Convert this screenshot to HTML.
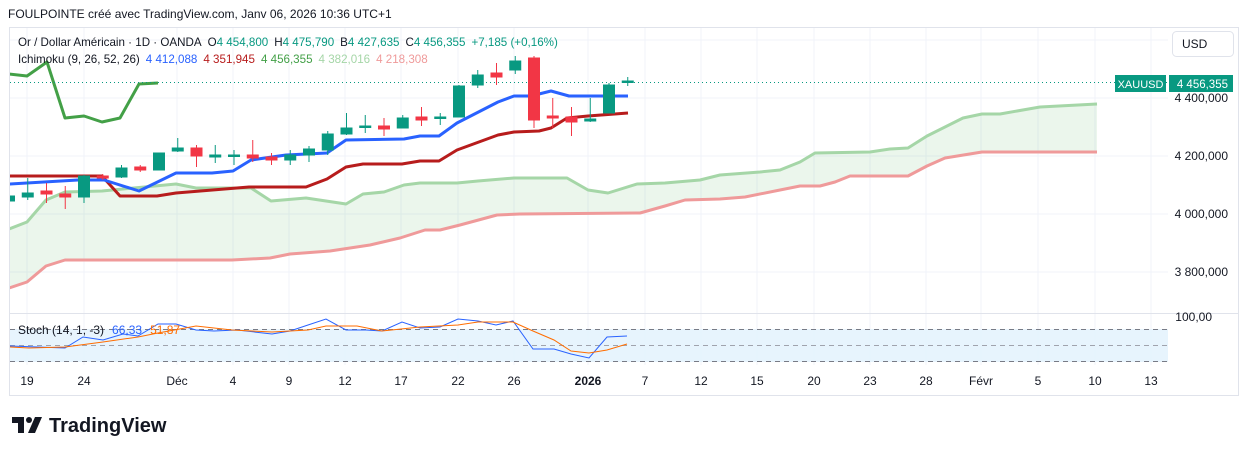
<!DOCTYPE html>
<html><head><meta charset="utf-8"><style>
body{margin:0;background:#fff;width:1248px;height:455px;overflow:hidden;font-family:"Liberation Sans",sans-serif}
svg text{font-family:"Liberation Sans",sans-serif}
</style></head><body>
<svg width="1248" height="455" xmlns="http://www.w3.org/2000/svg">
<text x="8" y="18" font-size="12" fill="#131722">FOULPOINTE créé avec TradingView.com, Janv 06, 2026 10:36 UTC+1</text>
<rect x="9.5" y="27.5" width="1229" height="368" fill="#fff" stroke="#e0e3eb"/>
<defs><clipPath id="c"><rect x="10" y="28" width="1158" height="285"/></clipPath><clipPath id="s"><rect x="10" y="314" width="1158" height="50"/></clipPath></defs>
<g stroke="#f0f3fa" stroke-width="1">
<line x1="27" y1="28" x2="27" y2="365"/><line x1="84" y1="28" x2="84" y2="365"/><line x1="177" y1="28" x2="177" y2="365"/><line x1="233" y1="28" x2="233" y2="365"/><line x1="289" y1="28" x2="289" y2="365"/><line x1="345" y1="28" x2="345" y2="365"/><line x1="401" y1="28" x2="401" y2="365"/><line x1="458" y1="28" x2="458" y2="365"/><line x1="514" y1="28" x2="514" y2="365"/><line x1="588" y1="28" x2="588" y2="365"/><line x1="645" y1="28" x2="645" y2="365"/><line x1="701" y1="28" x2="701" y2="365"/><line x1="757" y1="28" x2="757" y2="365"/><line x1="814" y1="28" x2="814" y2="365"/><line x1="870" y1="28" x2="870" y2="365"/><line x1="926" y1="28" x2="926" y2="365"/><line x1="981" y1="28" x2="981" y2="365"/><line x1="1038" y1="28" x2="1038" y2="365"/><line x1="1095" y1="28" x2="1095" y2="365"/><line x1="1151" y1="28" x2="1151" y2="365"/>
<line x1="10" y1="40" x2="1168" y2="40"/><line x1="10" y1="98" x2="1168" y2="98"/><line x1="10" y1="156" x2="1168" y2="156"/><line x1="10" y1="214" x2="1168" y2="214"/><line x1="10" y1="272" x2="1168" y2="272"/>
</g>
<line x1="10" y1="313.5" x2="1238" y2="313.5" stroke="#e0e3eb"/>
<g clip-path="url(#c)">
<polygon fill="rgba(76,175,80,0.11)" points="9,229 27,222 46,200 65,192 102,191 176,184 196,188 251,188 271,201 306,198 346,204 363,194 384,192 404,185 420,183 457,183 478,181 514,178 567,178 588,190 608,193 637,184 665,183 700,180 720,175 760,172 780,170 800,162 815,153 870,152 890,149 908,148 927,136 963,118 982,114 1000,114 1040,107 1097,104 1097,152 982,152 945,158 927,166 908,177 850,176 835,182 820,186 800,186 780,190 745,197 720,199 685,200 665,206 640,213 520,214 497,215 460,225 440,230 425,230 400,238 370,245 330,251 290,254 270,258 232,260 65,260 46,266 27,282 9,288"/>
<polyline fill="none" stroke="#a5d6a7" stroke-width="3" stroke-linejoin="round" points="9,229 27,222 46,200 65,192 102,191 176,184 196,188 251,188 271,201 306,198 346,204 363,194 384,192 404,185 420,183 457,183 478,181 514,178 567,178 588,190 608,193 637,184 665,183 700,180 720,175 760,172 780,170 800,162 815,153 870,152 890,149 908,148 927,136 963,118 982,114 1000,114 1040,107 1097,104"/>
<polyline fill="none" stroke="#ef9a9a" stroke-width="3" stroke-linejoin="round" points="9,288 27,282 46,266 65,260 232,260 270,258 290,254 330,251 370,245 400,238 425,230 440,230 460,225 497,215 520,214 640,213 665,206 685,200 720,199 745,197 780,190 800,186 820,186 835,182 850,176 908,176 927,166 945,158 982,152 1097,152"/>
<polyline fill="none" stroke="#43a047" stroke-width="3" stroke-linejoin="round" points="9,74 27,76 47,62 65,118 84,116 102,122 120,118 139,84 158,83"/>
<polyline fill="none" stroke="#b71c1c" stroke-width="3" stroke-linejoin="round" points="9,176 102,176 120,196 157,196 176,193 249,187 306,187 327,179 346,167 363,164 402,164 420,161 439,161 457,150 498,135 514,132 539,131 551,128 567,118 588,116 628,113"/>
<polyline fill="none" stroke="#2962ff" stroke-width="3" stroke-linejoin="round" points="9,184 78,180 104,180 139,191 176,173 212,173 233,171 251,160 286,155 327,153 346,140 404,139 420,136 439,136 457,123 498,102 514,96 531,96 551,91 569,96 628,96"/>
<line x1="10" y1="82.5" x2="1168" y2="82.5" stroke="#089981" stroke-dasharray="1,3"/>
<g stroke-width="1">
<g stroke="#089981" fill="#089981">
<line x1="9" y1="194" x2="9" y2="203"/><rect x="3.5" y="196" width="11" height="5"/>
<line x1="27.75" y1="178" x2="27.75" y2="200"/><rect x="22.25" y="193" width="11" height="4"/>
<line x1="84" y1="175" x2="84" y2="203"/><rect x="78.5" y="176" width="11" height="21"/>
<line x1="121.5" y1="165" x2="121.5" y2="178"/><rect x="116" y="168" width="11" height="9"/>
<rect x="153.5" y="153" width="11" height="17"/>
<line x1="177.75" y1="138" x2="177.75" y2="152"/><rect x="172.25" y="148" width="11" height="3"/>
<line x1="215.25" y1="145" x2="215.25" y2="163"/><rect x="209.75" y="155" width="11" height="2"/>
<line x1="234" y1="150" x2="234" y2="165"/><rect x="228.5" y="155" width="11" height="1.5"/>
<line x1="290.25" y1="150" x2="290.25" y2="165"/><rect x="284.75" y="155" width="11" height="5"/>
<line x1="309" y1="146" x2="309" y2="162"/><rect x="303.5" y="149" width="11" height="6"/>
<line x1="327.75" y1="131" x2="327.75" y2="155"/><rect x="322.25" y="134" width="11" height="16"/>
<line x1="346.5" y1="113" x2="346.5" y2="135"/><rect x="341" y="128" width="11" height="6"/>
<line x1="365.25" y1="115" x2="365.25" y2="133"/><rect x="359.75" y="126" width="11" height="1.5"/>
<line x1="402.75" y1="115" x2="402.75" y2="128"/><rect x="397.25" y="118" width="11" height="10"/>
<line x1="440.25" y1="113" x2="440.25" y2="125"/><rect x="434.75" y="117" width="11" height="1.5"/>
<line x1="459" y1="85" x2="459" y2="117"/><rect x="453.5" y="86" width="11" height="31"/>
<line x1="477.75" y1="70" x2="477.75" y2="88"/><rect x="472.25" y="75" width="11" height="10"/>
<line x1="515.25" y1="56" x2="515.25" y2="74"/><rect x="509.75" y="61" width="11" height="9"/>
<line x1="590.25" y1="98" x2="590.25" y2="122"/><rect x="584.75" y="119" width="11" height="2"/>
<line x1="609" y1="83" x2="609" y2="113"/><rect x="603.5" y="85" width="11" height="28"/>
<line x1="627.75" y1="77" x2="627.75" y2="86"/><rect x="622.25" y="81" width="11" height="1.5"/>
</g>
<g stroke="#f23645" fill="#f23645">
<line x1="46.5" y1="183" x2="46.5" y2="203"/><rect x="41" y="191" width="11" height="3"/>
<line x1="65.25" y1="186" x2="65.25" y2="209"/><rect x="59.75" y="194" width="11" height="3"/>
<line x1="102.75" y1="174" x2="102.75" y2="180"/><rect x="97.25" y="176" width="11" height="2"/>
<line x1="140.25" y1="165" x2="140.25" y2="172"/><rect x="134.75" y="167" width="11" height="3"/>
<line x1="196.5" y1="145" x2="196.5" y2="167"/><rect x="191" y="148" width="11" height="8"/>
<line x1="252.75" y1="140" x2="252.75" y2="162"/><rect x="247.25" y="155" width="11" height="3"/>
<line x1="271.5" y1="153" x2="271.5" y2="165"/><rect x="266" y="157" width="11" height="3"/>
<line x1="384" y1="118" x2="384" y2="136"/><rect x="378.5" y="126" width="11" height="3"/>
<line x1="421.5" y1="107" x2="421.5" y2="126"/><rect x="416" y="117" width="11" height="3"/>
<line x1="496.5" y1="63" x2="496.5" y2="85"/><rect x="491" y="73" width="11" height="4"/>
<line x1="534" y1="56" x2="534" y2="128"/><rect x="528.5" y="58" width="11" height="62"/>
<line x1="552.75" y1="98" x2="552.75" y2="128"/><rect x="547.25" y="116" width="11" height="2"/>
<line x1="571.5" y1="107" x2="571.5" y2="136"/><rect x="566" y="117" width="11" height="5"/>
</g></g>
</g>
<g clip-path="url(#s)">
<rect x="10" y="329" width="1158" height="33" fill="#e3f2fd" opacity="0.85"/>
<line x1="10" y1="329.5" x2="1168" y2="329.5" stroke="#787b86" stroke-dasharray="5,4"/>
<line x1="10" y1="345.5" x2="1168" y2="345.5" stroke="#a0a3ad" stroke-dasharray="5,4"/>
<line x1="10" y1="361.5" x2="1168" y2="361.5" stroke="#787b86" stroke-dasharray="5,4"/>
<polyline fill="none" stroke="#2962ff" stroke-width="1" points="9,346 65,348 83,337 103,340 123,334 138,336 158,324 176,324 196,330 214,331 237,330 272,334 290,331 308,325 326,319 346,330 366,330 382,331 402,322 420,328 440,327 458,319 478,321 496,325 513,321 533,349 554,349 571,354 589,358 607,337 627,336"/>
<polyline fill="none" stroke="#ff6d00" stroke-width="1" points="9,347 29,348 65,347 103,342 138,337 158,333 196,326 232,330 272,332 308,330 326,326 357,326 382,331 420,327 458,325 478,322 513,322 533,331 554,340 571,351 589,353 607,350 627,344"/>
</g>
<text font-size="12" fill="#131722"><tspan x="18" y="334">Stoch (14, 1, -3)</tspan><tspan fill="#2962ff" dx="8">66,33</tspan><tspan fill="#ff6d00" dx="8">51,87</tspan></text>
<text font-size="11.6" fill="#131722"><tspan x="18" y="46">Or / Dollar Américain · 1D · OANDA</tspan><tspan dx="6">O</tspan><tspan fill="#089981">4 454,800</tspan><tspan dx="6">H</tspan><tspan fill="#089981">4 475,790</tspan><tspan dx="6">B</tspan><tspan fill="#089981">4 427,635</tspan><tspan dx="6">C</tspan><tspan fill="#089981">4 456,355</tspan><tspan dx="6" fill="#089981">+7,185 (+0,16%)</tspan></text>
<text font-size="11.6" fill="#131722"><tspan x="18" y="63">Ichimoku (9, 26, 52, 26)</tspan><tspan dx="6" fill="#2962ff">4 412,088</tspan><tspan dx="6" fill="#b71c1c">4 351,945</tspan><tspan dx="6" fill="#43a047">4 456,355</tspan><tspan dx="6" fill="#a5d6a7">4 382,016</tspan><tspan dx="6" fill="#ef9a9a">4 218,308</tspan></text>
<rect x="1172.5" y="31.5" width="61" height="25" rx="4" fill="#fff" stroke="#e0e3eb"/>
<text x="1182" y="48" font-size="12" fill="#131722">USD</text>
<g font-size="12" fill="#131722" text-anchor="end">
<text x="1228" y="102">4 400,000</text><text x="1228" y="160">4 200,000</text><text x="1228" y="218">4 000,000</text><text x="1228" y="276">3 800,000</text><text x="1212" y="321">100,00</text>
</g>
<rect x="1115" y="75" width="51" height="17" fill="#089981"/>
<rect x="1169" y="75" width="64" height="17" fill="#089981"/>
<text x="1140.5" y="88" font-size="11" fill="#fff" text-anchor="middle">XAUUSD</text>
<text x="1228" y="88" font-size="11.5" fill="#fff" text-anchor="end">4 456,355</text>
<g font-size="12" fill="#131722" text-anchor="middle">
<text x="27" y="385">19</text><text x="84" y="385">24</text><text x="177" y="385">Déc</text><text x="233" y="385">4</text><text x="289" y="385">9</text><text x="345" y="385">12</text><text x="401" y="385">17</text><text x="458" y="385">22</text><text x="514" y="385">26</text><text x="588" y="385" font-weight="bold">2026</text><text x="645" y="385">7</text><text x="701" y="385">12</text><text x="757" y="385">15</text><text x="814" y="385">20</text><text x="870" y="385">23</text><text x="926" y="385">28</text><text x="981" y="385">Févr</text><text x="1038" y="385">5</text><text x="1095" y="385">10</text><text x="1151" y="385">13</text>
</g>
<g fill="#131722">
<path d="M12,417 h12 v16 h-6 v-10 h-6 z"/><circle cx="29" cy="420" r="3"/><path d="M35,417 h7 l-7,16 h-7 z"/>
</g>
<text x="49" y="432" font-size="20" font-weight="bold" fill="#131722">TradingView</text>
</svg>
</body></html>
